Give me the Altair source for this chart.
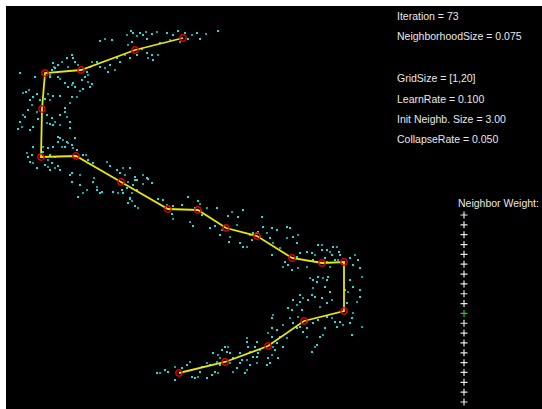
import altair as alt
import pandas as pd

# Self-organizing map, 1 x 20 grid, after 73 iterations
node_x = [183, 135, 81, 45, 42, 41, 76, 121, 168, 198, 226, 257, 292, 322, 344, 344, 304, 268, 225, 179]
node_y = [38, 50, 70, 73, 109, 157, 156, 182, 209, 210, 228, 236, 258, 263, 262, 311, 321, 346, 362, 373]

# Training samples (x, y)
samples = [
    (127,35),(131,31),(133,33),(137,36),(140,33),(143,35),(146,32),(147,39),(152,34),(157,32),
    (160,43),(167,33),(170,40),(173,35),(178,31),(180,42),(185,33),(188,39),(192,35),(197,33),
    (200,39),(206,34),(218,31),(100,41),(105,39),(112,40),(132,42),(128,45),(142,49),(147,53),
    (148,58),(152,55),(153,60),(158,55),(137,55),(130,58),(125,55),(120,62),(117,58),(115,70),
    (110,65),(108,72),(105,68),(100,67),(97,62),(92,62),(90,67),(87,72),(88,75),(85,77),
    (82,80),(88,82),(90,87),(92,84),(78,65),(75,62),(73,58),(68,67),(67,58),(72,55),
    (62,62),(58,65),(53,63),(54,67),(52,70),(55,68),(50,75),(50,77),(58,77),(60,79),
    (65,83),(68,87),(72,85),(73,83),(75,87),(80,91),(83,89),(72,97),(77,97),(60,96),
    (53,96),(50,100),(45,99),(40,100),(48,94),(37,94),(33,97),(29,90),(30,100),(26,92),
    (23,93),(20,73),(35,77),(32,105),(28,110),(25,117),(23,115),(33,127),(30,130),(22,127),
    (18,129),(20,122),(37,112),(38,119),(47,115),(47,123),(52,118),(50,124),(55,122),(53,125),
    (60,115),(60,125),(65,108),(65,112),(70,103),(70,122),(70,128),(67,117),(58,137),(60,138),
    (63,140),(58,142),(67,142),(68,143),(72,145),(75,138),(73,148),(77,150),(65,147),(62,147),
    (53,147),(48,148),(43,147),(43,152),(50,155),(55,157),(33,147),(32,155),(27,153),(28,157),
    (30,162),(33,163),(37,168),(45,165),(48,160),(52,163),(50,170),(55,168),(60,170),(58,166),
    (48,167),(70,175),(72,173),(80,175),(72,182),(83,155),(86,155),(88,160),(93,163),(107,162),
    (110,166),(117,170),(123,168),(130,168),(120,173),(125,175),(135,177),(137,180),(143,175),(147,178),
    (133,185),(128,182),(127,188),(122,190),(118,193),(113,192),(123,193),(132,193),(137,190),(152,183),
    (97,187),(100,193),(102,192),(87,190),(93,182),(80,185),(83,193),(78,197),(130,198),(94,178),
    (97,190),(148,179),(143,184),(135,180),(130,199),(132,201),(128,203),(135,206),(138,208),(158,199),
    (163,200),(167,205),(173,206),(172,214),(173,219),(182,205),(188,197),(190,222),(193,226),(198,201),
    (200,204),(195,208),(202,215),(207,208),(217,208),(220,235),(222,230),(215,226),(210,228),(230,237),
    (229,242),(228,216),(232,212),(238,217),(243,210),(237,225),(240,243),(243,247),(247,247),(252,240),
    (253,233),(250,235),(257,233),(258,232),(260,237),(262,217),(263,227),(267,233),(272,228),(270,238),
    (273,243),(272,255),(277,230),(280,248),(287,227),(290,228),(287,238),(293,237),(297,243),(298,235),
    (285,262),(288,265),(283,267),(292,270),(297,257),(298,268),(300,253),(307,252),(307,267),(312,253),
    (313,260),(315,255),(317,262),(318,245),(322,245),(322,250),(327,250),(330,252),(332,255),(333,247),
    (337,247),(339,252),(340,255),(338,260),(335,260),(325,258),(327,262),(350,258),(353,265),(355,255),
    (358,260),(360,268),(362,277),(360,290),(360,297),(357,302),(353,287),(350,280),(348,292),(345,290),
    (347,303),(353,313),(352,318),(350,323),(362,327),(352,335),(340,322),(343,325),(337,327),(335,322),
    (332,318),(327,317),(325,328),(323,335),(320,337),(317,345),(315,347),(312,352),(307,328),(307,337),
    (303,332),(300,327),(298,317),(302,310),(300,302),(297,305),(293,300),(292,310),(290,318),(288,308),
    (300,295),(303,298),(308,300),(312,295),(313,288),(315,297),(317,282),(310,278),(313,280),(318,277),
    (323,278),(327,280),(328,277),(330,267),(325,287),(330,292),(332,300),(327,303),(322,298),(320,307),
    (318,320),(313,323),(307,322),(293,323),(297,328),(283,325),(277,330),(272,328),(268,333),(272,337),
    (280,337),(287,338),(283,347),(277,343),(273,347),(275,350),(278,358),(272,355),(270,363),(267,365),
    (260,350),(257,342),(255,347),(247,338),(247,342),(248,347),(250,352),(253,357),(250,365),(247,370),
    (245,373),(237,368),(233,372),(230,353),(227,352),(228,347),(225,347),(222,350),(218,355),(213,353),
    (210,365),(207,363),(202,367),(200,372),(198,377),(195,378),(192,377),(190,362),(187,365),(182,368),
    (175,367),(168,372),(165,370),(160,373),(157,373),(175,380),(217,362),(220,365),(215,372),(218,373),
    (212,375),(207,378),(220,358),(240,363),(242,360),(230,363),(233,358),(240,353),(247,360),(258,353),
    (257,357),(257,363),(268,358),(272,318),(273,315),
]

info_lines = [
    "Iteration = 73",
    "NeighborhoodSize = 0.075",
    "GridSize = [1,20]",
    "LearnRate = 0.100",
    "Init Neighb. Size = 3.00",
    "CollapseRate = 0.050",
]
info_rows_px = [11, 31, 73, 94, 114, 134]

weight_slots = list(range(1, 21))
winner_slot = 11

FONT = "Liberation Sans"
xs = alt.Scale(domain=[6, 542], nice=False, zero=False)
ys = alt.Scale(domain=[6, 409], nice=False, zero=False, reverse=True)

nodes = pd.DataFrame({"node": list(range(1, 21)), "x": node_x, "y": node_y})
pts = pd.DataFrame(samples, columns=["x", "y"])
pts["tone"] = ["a" if i % 3 else "b" for i in range(len(pts))]

dots = alt.Chart(pts).mark_square(size=4, opacity=1).encode(
    x=alt.X("x:Q", scale=xs, axis=None),
    y=alt.Y("y:Q", scale=ys, axis=None),
    color=alt.Color("tone:N", scale=alt.Scale(domain=["a", "b"], range=["#1cdede", "#0ba8ac"]), legend=None),
)

chain = alt.Chart(nodes).mark_line(color="#e8e800", strokeWidth=1.8).encode(
    x=alt.X("x:Q", scale=xs, axis=None),
    y=alt.Y("y:Q", scale=ys, axis=None),
    order="node:Q",
)

units = alt.Chart(nodes).mark_point(shape="circle", filled=False, color="#e00000", size=40, strokeWidth=1.5, opacity=1).encode(
    x=alt.X("x:Q", scale=xs, axis=None),
    y=alt.Y("y:Q", scale=ys, axis=None),
)

layers = [dots, chain, units]

for line, ypx in zip(info_lines, info_rows_px):
    layers.append(
        alt.Chart(pd.DataFrame({"t": [line]})).mark_text(
            align="left", baseline="middle", font=FONT, fontSize=10.5, color="#e8e8e8"
        ).encode(x=alt.value(391), y=alt.value(ypx), text="t:N")
    )

layers.append(
    alt.Chart(pd.DataFrame({"t": ["Neighbor Weight:"]})).mark_text(
        align="left", baseline="middle", font=FONT, fontSize=10.5, color="#e8e8e8"
    ).encode(x=alt.value(452), y=alt.value(198), text="t:N")
)

wdf = pd.DataFrame({"slot": weight_slots})
wdf["state"] = ["win" if s == winner_slot else "off" for s in weight_slots]
weights = alt.Chart(wdf).mark_point(
    shape="M-1,0H1M0,-1V1", filled=False, size=49, strokeWidth=1.2, opacity=1
).encode(
    x=alt.value(458),
    y=alt.Y("slot:Q", scale=alt.Scale(domain=[1, 20], range=[209, 396], nice=False, zero=False), axis=None),
    color=alt.Color("state:N", scale=alt.Scale(domain=["off", "win"], range=["#e8e8e8", "#22cc22"]), legend=None),
)
layers.append(weights)

chart = (
    alt.layer(*layers)
    .resolve_scale(y="independent", color="independent")
    .properties(
        width=536,
        height=403,
        padding={"left": 6, "top": 6, "right": 0, "bottom": 0},
        autosize=alt.AutoSizeParams(type="none"),
        background="white",
    )
    .configure_view(fill="black", strokeWidth=0)
)

chart.save("out.html", embed_options={"renderer": "svg", "actions": False})
